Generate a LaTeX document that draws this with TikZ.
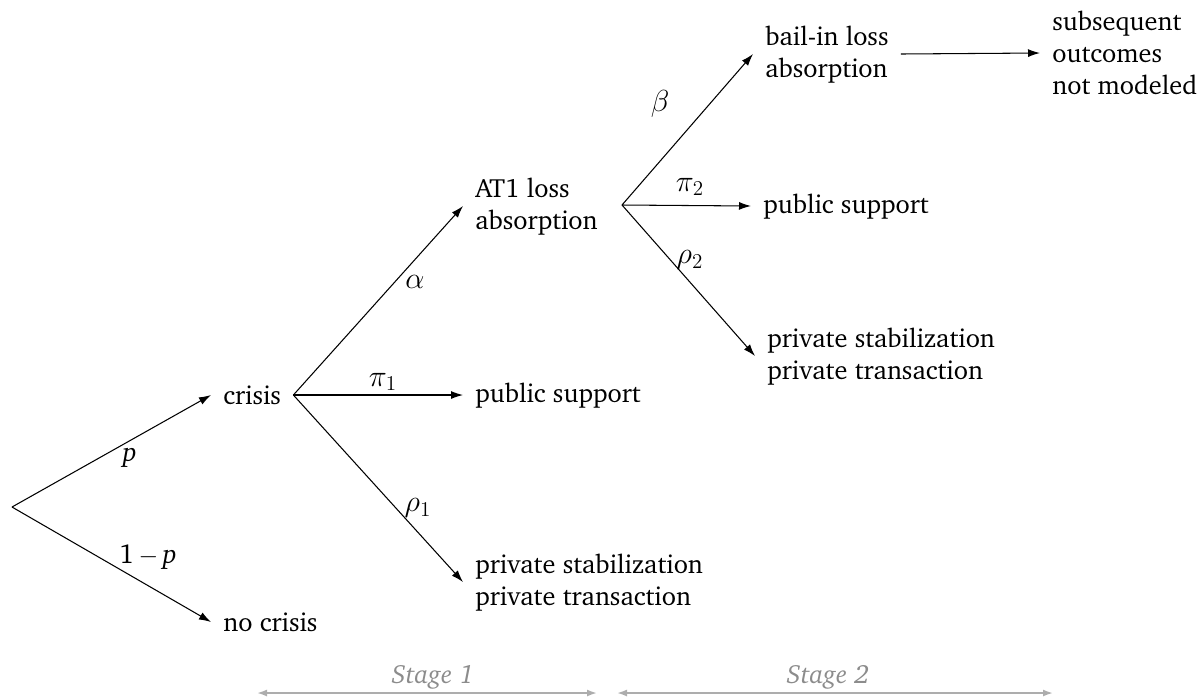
\documentclass[tikz,border=0pt]{standalone}
\usepackage[T1]{fontenc}
\usepackage{charter}
\usetikzlibrary{arrows.meta,calc}
\begin{document}
\begin{tikzpicture}[x=0.2mm,y=-0.2mm,
  every node/.style={font=\fontsize{15}{18.2}\selectfont},
  lbl/.style={anchor=west,align=left,inner xsep=2.4mm,inner ysep=0pt},
  br/.style={-{Latex[length=2.4mm,width=1.6mm]},line width=0.6pt},
  prob/.style={inner sep=0pt,font=\fontsize{15.5}{18.2}\selectfont},
  greek/.style={inner sep=0pt,font=\fontsize{17}{18.2}\selectfont},
  stg/.style={text=black!45,font=\fontsize{15}{18}\selectfont\itshape,inner sep=0pt},
  stgarr/.style={{Latex[length=2mm,width=1.4mm]}-{Latex[length=2mm,width=1.4mm]},draw=black!32,line width=1pt}]
\useasboundingbox (0,0) rectangle (1200,696);

\coordinate (root) at (12,507);
\node[lbl] (crisis) at (211,395) {crisis};
\node[lbl] (nocrisis) at (211,622) {no crisis};
\node[lbl] (at1) at (463,206) {AT1 loss\\absorption};
\node[lbl] (pub1) at (463,395) {public support};
\node[lbl] (priv1) at (463,582) {private stabilization\\private transaction};
\coordinate (b2) at (622,205);
\node[lbl] (bail) at (753,54) {bail-in loss\\absorption};
\node[lbl] (subseq) at (1040,53) {subsequent\\outcomes\\not modeled};
\node[lbl] (pub2) at (751,206) {public support};
\node[lbl] (priv2) at (755,356) {private stabilization\\private transaction};

\draw[br] (root) -- (crisis.west);
\draw[br] (root) -- (nocrisis.west);
\draw[br] (crisis.east) -- (at1.west);
\draw[br] (crisis.east) -- (pub1.west);
\draw[br] (crisis.east) -- (priv1.west);
\draw[br] (b2) -- (bail.west);
\draw[br] (b2) -- (pub2.west);
\draw[br] (b2) -- (priv2.west);
\draw[br] (bail.east) -- (subseq.west);

\node[prob] (lp) at (130,458) {\textit{p}};
\node[prob] (lnp) at (148,557) {1\,$-$\,\textit{p}};
\node[greek] (la) at (415,282) {$\alpha$};
\node[greek] (lpi1) at (383,382) {$\pi_1$};
\node[greek] (lr1) at (418,508) {$\rho_1$};
\node[greek] (lb) at (660,104) {$\beta$};
\node[greek] (lpi2) at (690,187) {$\pi_2$};
\node[greek] (lr2) at (690,260) {$\rho_2$};

\coordinate (s1a) at (257,693);
\coordinate (s1b) at (597,693);
\coordinate (s2a) at (617,693);
\coordinate (s2b) at (1053,693);
\draw[stgarr] (s1a) -- (s1b);
\draw[stgarr] (s2a) -- (s2b);
\node[stg] (st1) at (433,677) {Stage 1};
\node[stg] (st2) at (828,677) {Stage 2};
\end{tikzpicture}
\end{document}
